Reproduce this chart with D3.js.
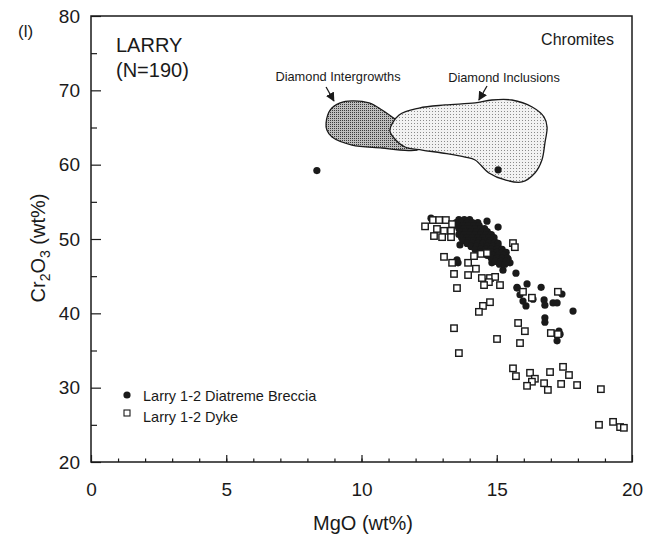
<!DOCTYPE html>
<html>
<head>
<meta charset="utf-8">
<script src="https://cdn.jsdelivr.net/npm/d3@7"></script>
<style>
  body { margin: 0; background: #fff; }
  svg text { font-family: "Liberation Sans", Arial, sans-serif; fill: #1a1a1a; }
</style>
</head>
<body>
<svg id="chart" width="664" height="542"></svg>
<script>
// MgO (wt%), Cr2O3 (wt%)
const breccia = [
  [8.35, 59.2], [15.05, 59.3],
  [12.57, 52.8], [12.68, 52.55], [13.72, 52.15], [14.64, 52.4], [15.05, 51.6],
  [14.97, 49.5], [15.42, 47.3], [15.49, 46.8], [15.23, 45.8], [15.71, 45.4],
  [15.75, 43.5], [16.12, 43.95], [15.86, 42.5], [15.97, 41.65], [16.34, 41.9],
  [16.64, 43.5], [16.75, 41.8], [16.78, 41.1], [17.08, 41.4], [17.23, 41.4],
  [17.41, 42.6], [17.82, 40.3], [16.78, 39.4], [16.78, 38.8], [17.3, 37.6],
  [17.34, 37.2], [17.23, 36.3], [16.08, 41.0], [13.57, 46.8], [13.53, 47.2],
  [13.64, 49.2], [14.82, 46.8], [15.05, 47.45], [15.23, 48.1], [15.75, 43.4],
  // dense cluster
  [13.6, 52.6], [13.8, 52.6], [14.0, 52.6],
  [13.5, 52.2], [13.7, 52.2], [13.9, 52.2], [14.1, 52.2], [14.3, 52.2],
  [13.55, 51.8], [13.75, 51.8], [13.95, 51.8], [14.15, 51.8], [14.35, 51.8],
  [13.6, 51.4], [13.8, 51.4], [14.0, 51.4], [14.2, 51.4], [14.4, 51.4], [14.55, 51.4],
  [13.65, 51.0], [13.85, 51.0], [14.05, 51.0], [14.25, 51.0], [14.45, 51.0], [14.65, 51.0],
  [13.6, 50.6], [13.8, 50.6], [14.0, 50.6], [14.2, 50.6], [14.4, 50.6], [14.6, 50.6], [14.8, 50.6],
  [13.7, 50.2], [13.9, 50.2], [14.1, 50.2], [14.3, 50.2], [14.5, 50.2], [14.7, 50.2], [14.9, 50.2],
  [13.75, 49.8], [13.95, 49.8], [14.15, 49.8], [14.35, 49.8], [14.55, 49.8], [14.75, 49.8],
  [13.9, 49.4], [14.1, 49.4], [14.3, 49.4], [14.5, 49.4], [14.7, 49.4], [14.9, 49.4], [15.05, 49.4],
  [14.05, 49.0], [14.25, 49.0], [14.45, 49.0], [14.65, 49.0], [14.85, 49.0], [15.05, 49.0],
  [14.2, 48.6], [14.4, 48.6], [14.6, 48.6], [14.8, 48.6], [15.0, 48.6], [15.2, 48.6],
  [14.4, 48.2], [14.6, 48.2], [14.8, 48.2], [15.0, 48.2], [15.2, 48.2], [15.35, 48.2],
  [14.65, 47.8], [14.85, 47.8], [15.05, 47.8], [15.25, 47.8],
  [14.8, 47.4], [15.0, 47.4], [15.2, 47.4], [15.4, 47.4],
  [14.95, 47.0], [15.15, 47.0], [15.35, 47.0],
  [15.1, 46.6], [15.3, 46.6]
];

const dyke = [
  [12.35, 51.7], [12.64, 52.55], [12.87, 52.55], [13.12, 52.55], [13.35, 52.0],
  [12.79, 51.35], [13.05, 51.1], [13.31, 51.1], [12.68, 50.4], [12.98, 50.25],
  [13.31, 50.25], [15.6, 49.45], [15.67, 48.9], [13.05, 47.6], [13.35, 46.8],
  [13.94, 46.8], [14.23, 46.0], [13.42, 45.3], [13.94, 45.15], [14.45, 44.75],
  [14.75, 44.75], [14.94, 44.9], [14.71, 44.2], [14.53, 43.8], [15.12, 43.8],
  [13.53, 43.4], [15.97, 42.9], [16.3, 42.1], [14.75, 41.5], [14.49, 41.0],
  [14.34, 40.2], [13.42, 38.0], [15.79, 38.7], [16.04, 37.6], [15.86, 36.0],
  [15.01, 36.55], [17.0, 37.35], [17.26, 37.2], [17.26, 42.9], [13.6, 34.65],
  [15.6, 32.6], [15.71, 31.55], [16.23, 32.0], [16.41, 31.2], [16.3, 30.8],
  [16.12, 30.25], [16.75, 30.6], [16.89, 29.7], [16.97, 32.1], [17.45, 32.8],
  [17.67, 31.7], [17.38, 30.5], [17.97, 30.35], [18.85, 29.8], [18.78, 25.0],
  [19.3, 25.4], [19.56, 24.7], [19.7, 24.6],
  [14.16, 47.7], [14.42, 48.0], [14.64, 48.1]
];

// outlines of the diamond fields
const intergrowthField = [
  [8.69, 65.6], [8.84, 67.35], [9.21, 68.3], [9.65, 68.57], [10.28, 68.3],
  [10.76, 67.35], [11.13, 66.41], [11.98, 63.99], [12.13, 62.11], [11.42, 61.97],
  [10.76, 62.24], [9.65, 62.64], [8.91, 63.72], [8.72, 64.66]
];
const inclusionField = [
  [11.05, 64.66], [11.39, 66.68], [12.13, 67.62], [13.09, 68.03], [14.2, 68.3],
  [14.82, 68.7], [15.56, 68.7], [16.31, 67.76], [16.75, 66.41], [16.86, 65.07],
  [16.78, 62.91], [16.67, 60.63], [16.41, 58.88], [15.93, 57.67], [15.31, 57.94],
  [14.71, 58.88], [14.2, 60.63], [13.83, 61.03], [12.98, 61.57], [12.24, 61.97],
  [11.61, 62.38], [11.2, 63.59]
];

const xMajor = [0, 5, 10, 15, 20];
const yMajor = [20, 30, 40, 50, 60, 70, 80];
const legendItems = ["Larry 1-2 Diatreme Breccia", "Larry 1-2 Dyke"];

const svg = d3.select("#chart");
const x = d3.scaleLinear().domain([0, 20]).range([91, 632]);
const y = d3.scaleLinear().domain([20, 80]).range([462, 16]);

// stipple patterns
const defs = svg.append("defs");
const p1 = defs.append("pattern").attr("id", "dark").attr("width", 2).attr("height", 2)
  .attr("patternUnits", "userSpaceOnUse");
p1.append("rect").attr("width", 2).attr("height", 2).attr("fill", "#bdbdbd");
p1.append("rect").attr("width", 1).attr("height", 1).attr("fill", "#3a3a3a");
const p2 = defs.append("pattern").attr("id", "light").attr("width", 3).attr("height", 3)
  .attr("patternUnits", "userSpaceOnUse");
p2.append("rect").attr("width", 3).attr("height", 3).attr("fill", "#f2f2f2");
p2.append("rect").attr("width", 1).attr("height", 1).attr("fill", "#8a8a8a");

const shape = d3.line().x(d => x(d[0])).y(d => y(d[1])).curve(d3.curveCatmullRomClosed);

svg.append("path").attr("d", shape(intergrowthField))
  .attr("fill", "url(#dark)").attr("stroke", "#1a1a1a").attr("stroke-width", 1.3);
svg.append("path").attr("d", shape(inclusionField))
  .attr("fill", "url(#light)").attr("stroke", "#1a1a1a").attr("stroke-width", 1.3);

// axes (ticks point inwards)
const gx = svg.append("g").attr("transform", `translate(0,${y(20)})`);
gx.call(d3.axisBottom(x).tickValues(d3.range(1, 20)).tickSize(-3.5).tickFormat(""));
const gx2 = svg.append("g").attr("transform", `translate(0,${y(20)})`);
gx2.call(d3.axisBottom(x).tickValues(xMajor).tickSize(-7).tickPadding(21).tickFormat(d3.format("d")));

const gy = svg.append("g").attr("transform", `translate(${x(0)},0)`);
gy.call(d3.axisLeft(y).tickValues(d3.range(25, 80, 10)).tickSize(-6).tickFormat(""));
const gy2 = svg.append("g").attr("transform", `translate(${x(0)},0)`);
gy2.call(d3.axisLeft(y).tickValues(yMajor).tickSize(-10).tickPadding(21).tickFormat(d3.format("d")));

svg.selectAll(".domain").remove();
svg.selectAll(".tick line").attr("stroke", "#1a1a1a").attr("stroke-width", 1.2);
gx2.selectAll("text").attr("font-size", 19).attr("fill", "#1a1a1a");
gy2.selectAll("text").attr("font-size", 19).attr("fill", "#1a1a1a").attr("dx", 10).attr("text-anchor", "end");

svg.append("rect").attr("x", x(0)).attr("y", y(80))
  .attr("width", x(20) - x(0)).attr("height", y(20) - y(80))
  .attr("fill", "none").attr("stroke", "#1a1a1a").attr("stroke-width", 1.5);

// points
svg.append("g").selectAll("circle").data(breccia).join("circle")
  .attr("cx", d => x(d[0])).attr("cy", d => y(d[1])).attr("r", 3.6).attr("fill", "#1a1a1a");

const sq = 6.4;
svg.append("g").selectAll("rect").data(dyke).join("rect")
  .attr("x", d => x(d[0]) - sq / 2).attr("y", d => y(d[1]) - sq / 2)
  .attr("width", sq).attr("height", sq)
  .attr("fill", "#fff").attr("stroke", "#1a1a1a").attr("stroke-width", 1.4);

// arrows
defs.append("marker").attr("id", "arrow").attr("viewBox", "0 0 10 10")
  .attr("refX", 9).attr("refY", 5).attr("markerWidth", 7).attr("markerHeight", 7)
  .attr("orient", "auto")
  .append("path").attr("d", "M0,0 L10,5 L0,10 Z").attr("fill", "#1a1a1a");
const arrows = [[[8.69, 70.45], [8.98, 68.57]], [[14.64, 70.58], [14.34, 68.7]]];
svg.selectAll(".arrow").data(arrows).join("line").attr("class", "arrow")
  .attr("x1", d => x(d[0][0])).attr("y1", d => y(d[0][1]))
  .attr("x2", d => x(d[1][0])).attr("y2", d => y(d[1][1]))
  .attr("stroke", "#1a1a1a").attr("stroke-width", 1.3).attr("marker-end", "url(#arrow)");

// labels
svg.append("text").attr("x", 338).attr("y", 81).attr("text-anchor", "middle")
  .attr("font-size", 12.8).text("Diamond Intergrowths");
svg.append("text").attr("x", 504).attr("y", 82).attr("text-anchor", "middle")
  .attr("font-size", 12.8).text("Diamond Inclusions");
svg.append("text").attr("x", 614).attr("y", 45).attr("text-anchor", "end")
  .attr("font-size", 16).text("Chromites");
svg.append("text").attr("x", 116).attr("y", 52).attr("font-size", 20).text("LARRY");
svg.append("text").attr("x", 116).attr("y", 77).attr("font-size", 20).text("(N=190)");
svg.append("text").attr("x", 18).attr("y", 37).attr("font-size", 17).text("(l)");

// axis titles
svg.append("text").attr("x", 363).attr("y", 530).attr("text-anchor", "middle")
  .attr("font-size", 20).text("MgO (wt%)");
const yt = svg.append("text").attr("transform", "translate(45,248) rotate(-90)")
  .attr("text-anchor", "middle").attr("font-size", 20);
yt.append("tspan").text("Cr");
yt.append("tspan").attr("font-size", 14).attr("dy", 5).text("2");
yt.append("tspan").attr("dy", -5).text("O");
yt.append("tspan").attr("font-size", 14).attr("dy", 5).text("3");
yt.append("tspan").attr("dy", -5).text(" (wt%)");

// legend
const lg = svg.append("g");
lg.append("circle").attr("cx", 127).attr("cy", 395).attr("r", 3.6).attr("fill", "#1a1a1a");
lg.append("rect").attr("x", 124).attr("y", 410).attr("width", 6).attr("height", 6)
  .attr("fill", "#fff").attr("stroke", "#1a1a1a").attr("stroke-width", 1.1);
lg.selectAll("text").data(legendItems).join("text")
  .attr("x", 143).attr("y", (d, i) => 401 + i * 21)
  .attr("font-size", 14.5).text(d => d);
</script>
</body>
</html>
